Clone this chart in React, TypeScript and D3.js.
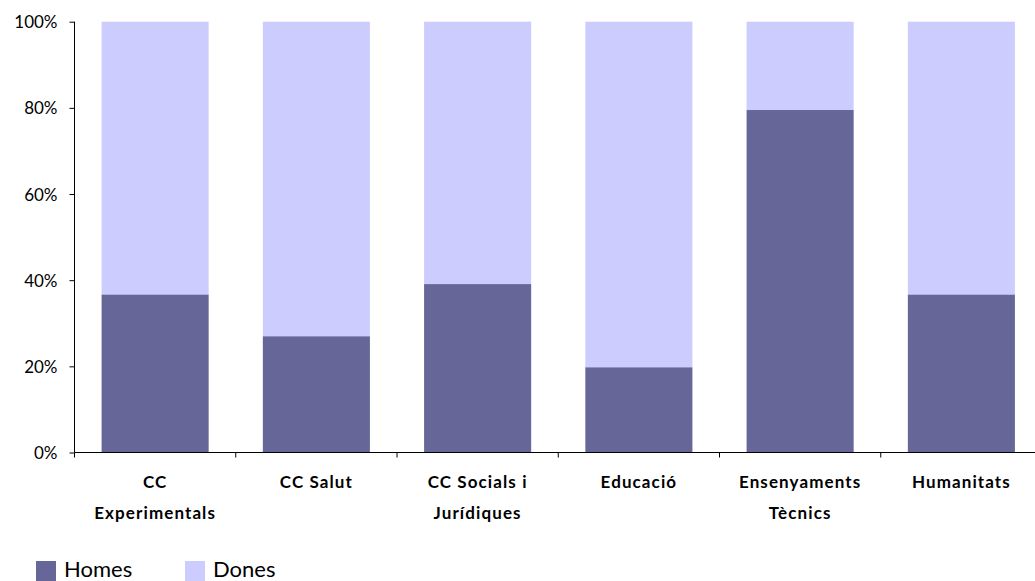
import React, { useEffect, useRef } from "react";
import * as d3 from "d3";

const categories = [
  "CC Experimentals",
  "CC Salut",
  "CC Socials i Jurídiques",
  "Educació",
  "Ensenyaments Tècnics",
  "Humanitats",
];
// how each category label is wrapped under the axis
const categoryLines = [
  ["CC", "Experimentals"],
  ["CC Salut"],
  ["CC Socials i", "Jurídiques"],
  ["Educació"],
  ["Ensenyaments", "Tècnics"],
  ["Humanitats"],
];
const homes = [36.7, 27.0, 39.1, 19.8, 79.5, 36.7];
const dones = homes.map((h) => 100 - h);
const seriesNames = ["Homes", "Dones"];
const colors = ["#666699", "#CCCCFF"];
const yTicks = [0, 20, 40, 60, 80, 100];

function App() {
  const svgRef = useRef(null);

  useEffect(() => {
    let svg = d3.select(svgRef.current);
    svg.selectAll("*").remove();
    const font = "Lato, 'DejaVu Sans', sans-serif";

    let xScale = d3
      .scaleBand()
      .domain(categories)
      .range([74.5, 1042])
      .paddingInner(0.336)
      .paddingOuter(0.168);
    let yScale = d3.scaleLinear().domain([0, 100]).range([452.5, 21.7]);

    const table = categories.map((c, i) => ({ cat: c, Homes: homes[i], Dones: dones[i] }));
    const stacked = d3.stack().keys(seriesNames)(table);

    svg
      .append("g")
      .selectAll("g")
      .data(stacked)
      .enter()
      .append("g")
      .attr("fill", (d, i) => colors[i])
      .selectAll("rect")
      .data((d) => d)
      .enter()
      .append("rect")
      .attr("x", (d) => xScale(d.data.cat))
      .attr("width", xScale.bandwidth())
      .attr("y", (d) => yScale(d[1]))
      .attr("height", (d) => yScale(d[0]) - yScale(d[1]));

    // y axis
    let yAxis = d3
      .axisLeft(yScale)
      .tickValues(yTicks)
      .tickSize(5)
      .tickPadding(12)
      .tickFormat((d) => d + "%");
    let gy = svg.append("g").attr("transform", "translate(74.5,0)").call(yAxis);
    gy.select(".domain").attr("stroke", "#000").attr("d", "M0,21.7V452.5");
    gy.selectAll("text")
      .attr("font-family", font)
      .attr("font-size", 17)
      .attr("fill", "#000")
      .attr("dy", "0.36em");

    // x axis with ticks at band boundaries
    svg
      .append("line")
      .attr("x1", 74.5)
      .attr("x2", 1035)
      .attr("y1", 452.5)
      .attr("y2", 452.5)
      .attr("stroke", "#000");
    const step = xScale.step();
    const bounds = d3.range(categories.length + 1).map((i) => 74.5 + i * step);
    svg
      .append("g")
      .selectAll("line")
      .data(bounds)
      .enter()
      .append("line")
      .attr("x1", (d) => d)
      .attr("x2", (d) => d)
      .attr("y1", 452.5)
      .attr("y2", 457.5)
      .attr("stroke", "#000");

    svg
      .append("g")
      .selectAll("text")
      .data(categories)
      .enter()
      .append("text")
      .attr("x", (d) => xScale(d) + xScale.bandwidth() / 2)
      .attr("y", 488)
      .attr("text-anchor", "middle")
      .attr("font-family", font)
      .attr("font-weight", "bold")
      .attr("font-size", 17)
      .attr("letter-spacing", 1.1)
      .attr("fill", "#000")
      .each(function (d, i) {
        d3.select(this)
          .selectAll("tspan")
          .data(categoryLines[i])
          .enter()
          .append("tspan")
          .attr("x", xScale(d) + xScale.bandwidth() / 2)
          .attr("dy", (t, j) => (j === 0 ? 0 : 31))
          .text((t) => t);
      });

    // legend
    let legend = svg
      .append("g")
      .selectAll("g")
      .data(seriesNames)
      .enter()
      .append("g")
      .attr("transform", (d, i) => `translate(${36 + i * 149},561)`);
    legend
      .append("rect")
      .attr("width", 20)
      .attr("height", 20)
      .attr("fill", (d, i) => colors[i]);
    legend
      .append("text")
      .attr("x", 28)
      .attr("y", 16)
      .attr("font-family", font)
      .attr("font-size", 22)
      .attr("fill", "#000")
      .text((d) => d);
  }, []);

  return (
    <svg
      ref={svgRef}
      width={1035}
      height={581}
      style={{ position: "absolute", left: 0, top: 0, display: "block" }}
    />
  );
}

export default App;
